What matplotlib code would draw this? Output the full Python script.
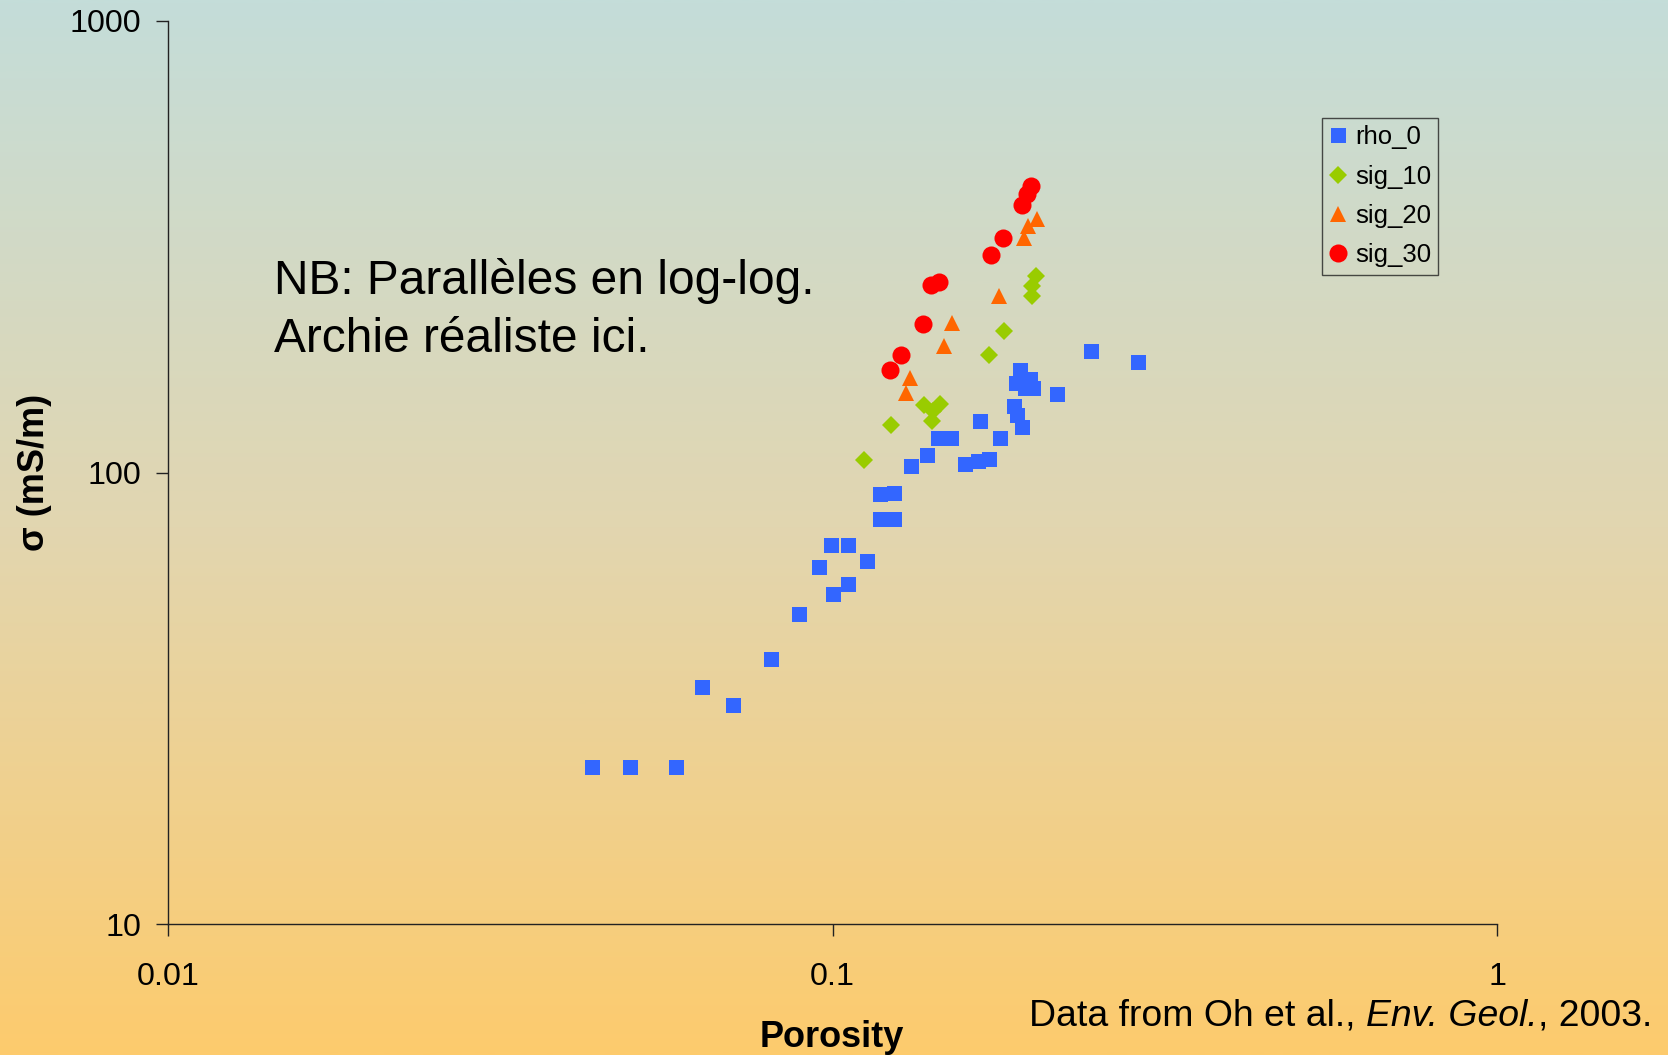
import numpy as np
import matplotlib
matplotlib.use("Agg")
import matplotlib.pyplot as plt
from matplotlib.colors import LinearSegmentedColormap
from matplotlib.offsetbox import TextArea, HPacker, AnchoredOffsetbox

plt.rcParams['font.family'] = ['Liberation Sans', 'DejaVu Sans']

# ---- data ----
rho0_x = [0.0434, 0.0496, 0.0581, 0.0637, 0.0709, 0.0809, 0.0891, 0.0954, 0.1001, 0.1056,
          0.0995, 0.1056, 0.1126, 0.1179, 0.1239, 0.1179, 0.1239, 0.1313, 0.1386, 0.1443,
          0.1510, 0.158, 0.1657, 0.1722, 0.1667, 0.1787, 0.1915, 0.1887, 0.198, 0.2004,
          0.195, 0.2175, 0.1876, 0.1896, 0.1926, 0.2453, 0.2886]
rho0_y = [22.3, 22.3, 22.3, 33.5, 30.5, 38.6, 48.5, 61.8, 53.7, 56.7,
          69.0, 69.0, 63.6, 78.7, 78.7, 89.4, 90.2, 103.6, 109.6, 119.4,
          119.4, 104.5, 105.9, 106.9, 130, 119.4, 169, 158, 160.7, 154,
          154, 149.6, 140.7, 134.4, 126.3, 186, 176]

sig10_x = [0.1116, 0.1223, 0.1373, 0.1452, 0.1419, 0.141, 0.1717, 0.1813, 0.2024, 0.1995, 0.1995]
sig10_y = [106.5, 127.3, 141, 141.5, 136.7, 130, 182.5, 205.6, 272, 258.6, 245.7]

sig20_x = [0.129, 0.1308, 0.1473, 0.1513, 0.1782, 0.1944, 0.197, 0.2029]
sig20_y = [150.2, 162, 191, 214.6, 245.7, 330, 351, 364.7]

sig30_x = [0.122, 0.1266, 0.137, 0.1407, 0.1446, 0.1732, 0.1807, 0.1926, 0.196, 0.199]
sig30_y = [168.5, 182, 213, 259.6, 264.5, 302.9, 330, 392, 412.8, 432]

x_ticks = [0.01, 0.1, 1]
x_ticklabels = ['0.01', '0.1', '1']
y_ticks = [10, 100, 1000]
y_ticklabels = ['10', '100', '1000']

W, H = 1668, 1055
fig = plt.figure(figsize=(W / 100, H / 100), dpi=100)

# background gradient
bg = fig.add_axes([0, 0, 1, 1], zorder=-10)
cmap = LinearSegmentedColormap.from_list('bg', ['#C4DDD9', '#E2D6B0', '#FDCB6D'])
grad = np.linspace(0, 1, 512).reshape(-1, 1)
bg.imshow(grad, aspect='auto', cmap=cmap, extent=[0, 1, 0, 1], origin='upper')
bg.set_axis_off()

left, right, top, bottom = 168, 1497, 21, 924
ax = fig.add_axes([left / W, 1 - bottom / H, (right - left) / W, (bottom - top) / H])
ax.set_facecolor('none')
ax.set_xscale('log')
ax.set_yscale('log')
ax.set_xlim(0.01, 1)
ax.set_ylim(10, 1000)

ax.plot(rho0_x, rho0_y, 's', color='#3366FF', markersize=10.8, markeredgewidth=0, label='rho_0', clip_on=False)
ax.plot(sig10_x, sig10_y, 'D', color='#99CC00', markersize=9.0, markeredgewidth=0, label='sig_10', clip_on=False)
ax.plot(sig20_x, sig20_y, '^', color='#FF6600', markersize=12.2, markeredgewidth=0, label='sig_20', clip_on=False)
ax.plot(sig30_x, sig30_y, 'o', color='#FF0000', markersize=13, markeredgewidth=0, label='sig_30', clip_on=False)

for s in ['top', 'right']:
    ax.spines[s].set_visible(False)
for s in ['left', 'bottom']:
    ax.spines[s].set_color('#222222')
    ax.spines[s].set_linewidth(1.0)

ax.xaxis.set_minor_locator(matplotlib.ticker.NullLocator())
ax.yaxis.set_minor_locator(matplotlib.ticker.NullLocator())
ax.set_xticks(x_ticks)
ax.set_xticklabels(x_ticklabels)
ax.set_yticks(y_ticks)
ax.set_yticklabels(y_ticklabels)
ax.tick_params(axis='x', direction='out', length=8.5, width=1, color='#222222', pad=19, labelsize=23.2)
ax.tick_params(axis='y', direction='out', length=8.5, width=1, color='#222222', pad=11, labelsize=23.2)

leg = ax.legend(loc='upper left', bbox_to_anchor=((1322 - left) / (right - left), 1 - (118 - top) / (bottom - top)),
                borderaxespad=0, frameon=True, fancybox=False, fontsize=18.5, labelspacing=0.6,
                handlelength=0.7, handletextpad=0.3, borderpad=0.28, markerscale=1.0)
leg.get_frame().set_facecolor('none')
leg.get_frame().set_edgecolor('#222222')
leg.get_frame().set_linewidth(1.0)

# annotation text
fig.text(274 / W, 1 - 258 / H, "NB: Parallèles en log-log.\nArchie réaliste ici.",
         fontsize=34.5, va='top', ha='left', linespacing=1.38)

# axis labels
fig.text(832 / W, 1 - 1047 / H, 'Porosity', fontsize=26, fontweight='bold', ha='center', va='baseline')
fig.text(35 / W, 1 - 472 / H, 'σ (mS/m)', fontsize=26, fontweight='bold', ha='center', va='center', rotation=90)

# source text
fs_src = 26.9
parts = [TextArea('Data from Oh et al., ', textprops=dict(fontsize=fs_src)),
         TextArea('Env. Geol.', textprops=dict(fontsize=fs_src, style='italic')),
         TextArea(', 2003.', textprops=dict(fontsize=fs_src))]
box = HPacker(children=parts, align='baseline', pad=0, sep=0)
ab = AnchoredOffsetbox(loc='lower right', child=box, pad=0, borderpad=0, frameon=False,
                       bbox_to_anchor=(1652 / W, 1 - 1034 / H), bbox_transform=fig.transFigure)
fig.add_artist(ab)

fig.savefig('out.png', dpi=100)
